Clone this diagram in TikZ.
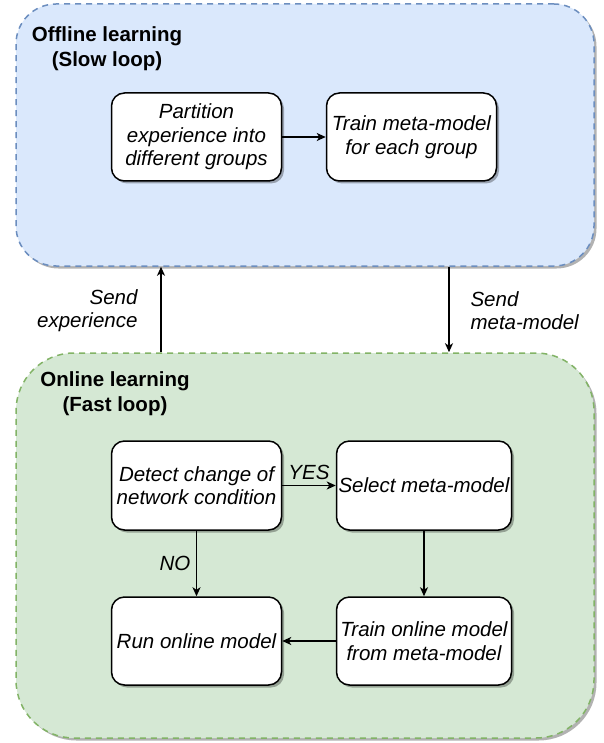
\documentclass[tikz,border=0pt]{standalone}
\usepackage{fontspec}
\setmainfont{Liberation Sans}
\usetikzlibrary{arrows.meta,shadows}
\definecolor{offfill}{HTML}{DAE8FC}
\definecolor{offline}{HTML}{6C8EBF}
\definecolor{onfill}{HTML}{D5E8D4}
\definecolor{online}{HTML}{82B366}
\begin{document}
\begin{tikzpicture}[x=1pt,y=-1pt,
  every node/.style={font=\fontsize{20.5}{23.5}\selectfont},
  shade/.style={drop shadow={shadow xshift=2.5pt,shadow yshift=-2.5pt,opacity=0.3,fill=black}},
  outerbox/.style={draw,dashed,dash pattern=on 6pt off 5pt,line width=1.5pt,rounded corners=#1,inner sep=0pt,shade},
  stepbox/.style={draw,fill=white,line width=1.5pt,rounded corners=13pt,inner sep=0pt,
     minimum height=88pt,align=center,shade,font=\fontsize{20.5}{23.5}\selectfont\itshape},
  title/.style={align=center,font=\fontsize{20.5}{25}\selectfont\bfseries},
  lbl/.style={font=\fontsize{20.5}{23}\selectfont\itshape},
  arr/.style={-{Stealth[length=9pt,width=8pt,inset=2.5pt]},line width=1.5pt}]
\useasboundingbox (0,0) rectangle (603,743);
% outer containers
\node[outerbox=40pt,fill=offfill,draw=offline,minimum width=578pt,minimum height=262pt] (offbox) at (305,135) {};
\node[outerbox=58pt,fill=onfill,draw=online,minimum width=578pt,minimum height=385pt] (onbox) at (305,545.5) {};
% titles
\node[title] (offtitle) at (107,49) {Offline learning\\(Slow loop)};
\node[title] (ontitle) at (115,393.5) {Online learning\\(Fast loop)};
% offline steps
\node[stepbox,minimum width=170pt] (part) at (196.5,137) {Partition\\experience into\\different groups};
\node[stepbox,minimum width=170pt] (train) at (411.5,137) {Train meta-model\\for each group};
% online steps
\node[stepbox,minimum width=170pt,minimum height=89pt] (detect) at (196.5,485.5) {Detect change of\\network condition};
\node[stepbox,minimum width=175pt,minimum height=89pt] (select) at (424,485.5) {Select meta-model};
\node[stepbox,minimum width=170pt] (run) at (196.5,641) {Run online model};
\node[stepbox,minimum width=175pt] (trainon) at (424,641) {Train online model\\from meta-model};
% connectors
\draw[arr] (part.east) -- (train.west);
\draw[arr] (detect.east) -- node[lbl,above=2pt] (yes) {YES} (select.west);
\draw[arr] (detect.south) -- node[lbl,left=2pt] (no) {NO} (run.north);
\draw[arr] (select.south) -- (trainon.north);
\draw[arr] (trainon.west) -- (run.east);
\coordinate (upx) at (161,0);
\coordinate (downx) at (449,0);
\draw[arr] (onbox.north -| upx) -- (offbox.south -| upx);
\draw[arr] (offbox.south -| downx) -- (onbox.north -| downx);
\node[lbl,anchor=east,align=right] (sendexp) at (141,311) {Send\\experience};
\node[lbl,anchor=west,align=left] (sendmeta) at (467,311) {Send\\meta-model};
\end{tikzpicture}
\end{document}
